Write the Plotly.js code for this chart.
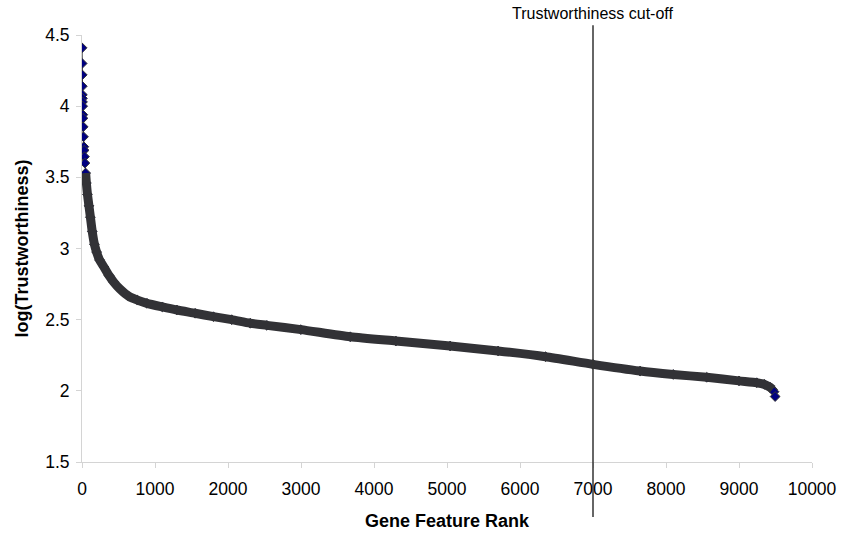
<!DOCTYPE html>
<html>
<head>
<meta charset="utf-8">
<script src="https://cdn.plot.ly/plotly-3.0.1.min.js"></script>
<style>html,body{margin:0;padding:0;background:#fff;}#chart{width:841px;height:537px;}</style>
</head>
<body>
<div id="chart"></div>
<script>
// Gene feature rank vs log(Trustworthiness)
var rank = [1, 2, 3, 4, 5, 6, 7, 9, 11, 13, 16, 20, 25, 29, 34, 40, 50, 60, 75, 95, 115, 140, 170, 200, 240, 300, 370, 433, 520, 638, 760, 890, 1100, 1300, 1550, 1800, 2050, 2305, 2533, 3000, 3674, 4300, 5043, 5700, 6350, 7000, 7645, 8100, 8558, 9000, 9243, 9350, 9425, 9460, 9480, 9495];
var logTrust = [4.41, 4.30, 4.22, 4.14, 4.08, 4.055, 4.03, 4.00, 3.94, 3.915, 3.855, 3.785, 3.715, 3.69, 3.645, 3.60, 3.53, 3.46, 3.38, 3.30, 3.22, 3.12, 3.03, 2.975, 2.92, 2.87, 2.81, 2.765, 2.715, 2.665, 2.637, 2.615, 2.59, 2.568, 2.545, 2.521, 2.50, 2.475, 2.46, 2.43, 2.38, 2.35, 2.315, 2.28, 2.24, 2.186, 2.139, 2.115, 2.095, 2.07, 2.057, 2.045, 2.025, 2.01, 1.994, 1.96];
var xTicks = [0, 1000, 2000, 3000, 4000, 5000, 6000, 7000, 8000, 9000, 10000];
var yTicks = [1.5, 2, 2.5, 3, 3.5, 4, 4.5];
var cutoffRank = 7000;
var cutoffLabel = "Trustworthiness cut-off";

var FONT = "Liberation Sans, Arial, Helvetica, sans-serif";

var traces = [
  {
    x: rank, y: logTrust, type: "scatter", mode: "lines+markers",
    line: {color: "#333333", width: 1},
    marker: {symbol: "diamond", size: 7.5, color: "#000080", line: {color: "#333333", width: 1}},
    hoverinfo: "x+y", showlegend: false
  },
  {
    x: rank.slice(16, -2), y: logTrust.slice(16, -2), type: "scatter", mode: "lines",
    line: {color: "#323236", width: 9, shape: "spline", smoothing: 0.6},
    hoverinfo: "skip", showlegend: false
  }
];

var axisCommon = {
  showgrid: false, zeroline: false, showline: true, linecolor: "#d4d4d4", linewidth: 1,
  ticks: "outside", ticklen: 5, tickcolor: "#d4d4d4", tickwidth: 1,
  tickfont: {family: FONT, size: 17.5, color: "#000"}
};

var layout = {
  width: 841, height: 537,
  margin: {l: 82, r: 29, t: 35, b: 75},
  paper_bgcolor: "#fff", plot_bgcolor: "#fff",
  font: {family: FONT, color: "#000"},
  xaxis: Object.assign({}, axisCommon, {
    range: [0, 10000], tickvals: xTicks, ticktext: xTicks.map(String), ticklabelstandoff: 6,
    title: {text: "<b>Gene Feature Rank</b>", font: {family: FONT, size: 18, color: "#000"}, standoff: 16}
  }),
  yaxis: Object.assign({}, axisCommon, {
    range: [1.5, 4.5], tickvals: yTicks, ticktext: yTicks.map(String), ticklabelstandoff: 3,
    title: {text: "<b>log(Trustworthiness)</b>", font: {family: FONT, size: 18, color: "#000"}, standoff: 11}
  }),
  shapes: [{
    type: "line", xref: "x", yref: "paper", x0: cutoffRank, x1: cutoffRank, y0: -0.129, y1: 1.023,
    line: {color: "#333333", width: 1.5}
  }],
  annotations: [{
    text: cutoffLabel, xref: "x", yref: "paper", x: cutoffRank, y: 1.023, yanchor: "bottom",
    xanchor: "center", showarrow: false, yshift: 1,
    font: {family: FONT, size: 16, color: "#000"}
  }]
};

Plotly.newPlot("chart", traces, layout, {displayModeBar: false, staticPlot: true});
</script>
</body>
</html>
